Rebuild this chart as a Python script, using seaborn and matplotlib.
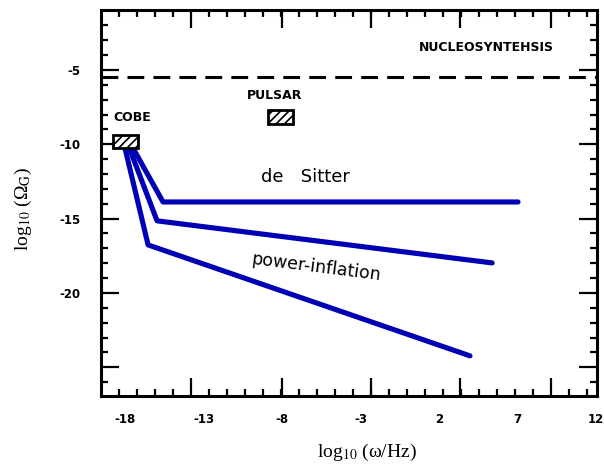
import numpy as np
import pandas as pd
import matplotlib
matplotlib.use("Agg")
import matplotlib.pyplot as plt
from matplotlib.patches import Rectangle
import seaborn as sns

# spectra: log10(omega/Hz) against log10(Omega_G)
desitter_x = [-17.6, -15.58, 7.03]
desitter_y = [-10.05, -13.88, -13.88]
power1_x = [-17.8, -15.96, 5.38]
power1_y = [-10.05, -15.15, -17.98]
power2_x = [-18.05, -16.53, 3.97]
power2_y = [-10.05, -16.77, -24.23]

# observational bounds
nucleo_level = -5.45
cobe_x = [-18.76, -17.17]
cobe_y = [-10.25, -9.37]
pulsar_x = [-8.89, -7.30]
pulsar_y = [-8.63, -7.69]

xtick_labels = ["-18", "-13", "-8", "-3", "2", "7", "12"]
xtick_label_pos = [-18, -13, -8, -3, 2, 7, 12]
ytick_labels = ["", "-20", "-15", "-10", "-5"]
ytick_pos = [-25, -20, -15, -10, -5]

df = pd.concat([
    pd.DataFrame({"x": desitter_x, "y": desitter_y, "model": "de Sitter"}),
    pd.DataFrame({"x": power1_x, "y": power1_y, "model": "power 1"}),
    pd.DataFrame({"x": power2_x, "y": power2_y, "model": "power 2"}),
])

sns.set_style("white")
plt.rcParams["mathtext.fontset"] = "stix"
for key in ["text.color", "axes.labelcolor", "xtick.color", "ytick.color"]:
    plt.rcParams[key] = "black"
blue = "#0000b4"

fig = plt.figure(figsize=(6.04, 4.65), dpi=100)
ax = fig.add_axes([101 / 604, 69 / 465, 496 / 604, 386 / 465])

sns.lineplot(data=df, x="x", y="y", units="model", estimator=None, sort=False,
             color=blue, lw=3.7, ax=ax, legend=False)

ax.axhline(nucleo_level, color="black", lw=2.2, ls=(0, (5.5, 3)))

plt.rcParams["hatch.linewidth"] = 1.2
for bx, by in [(cobe_x, cobe_y), (pulsar_x, pulsar_y)]:
    ax.add_patch(Rectangle((bx[0], by[0]), bx[1] - bx[0], by[1] - by[0],
                           facecolor="white", edgecolor="black", lw=2,
                           hatch="////", zorder=3))

bold = dict(fontsize=9, fontweight="bold", family="DejaVu Sans",
            ha="center", va="center", color="black")
ax.text(5.03, -3.52, "NUCLEOSYNTEHSIS", **bold)
ax.text(-8.45, -6.75, "PULSAR", **bold)
ax.text(-17.52, -8.23, "COBE", **bold)
ax.text(-6.54, -12.2, "de   Sitter", fontsize=13, ha="center", va="center",
        color="black")
ax.text(-5.83, -18.3, "power-inflation", fontsize=12.5, ha="center",
        va="center", rotation=-7.2, color="black")

ax.set_xlim(-19.53, 12.06)
ax.set_ylim(-26.93, -0.97)

# tick marks (unlabelled) on the main axes
step = (9.13 + 13.80) / 20
xmajor = [-13.80, -8.00, -2.33, 3.34, 9.13]
xminor = np.arange(-13.80 - 4 * step, 11.6, step)
ax.set_xticks(xmajor)
ax.set_xticks(xminor, minor=True)
ax.set_yticks(ytick_pos, labels=ytick_labels)
ax.set_yticks(np.arange(-26, -1), minor=True)
ax.tick_params(which="both", direction="in", top=True, right=True,
               bottom=True, left=True, width=1.6, color="black")
ax.tick_params(which="major", length=13)
ax.tick_params(which="minor", length=5)
ax.tick_params(axis="x", labelbottom=False)
ax.tick_params(axis="y", which="major", pad=15, labelsize=8.5)
for lab in ax.get_yticklabels():
    lab.set_fontweight("bold")
for sp in ax.spines.values():
    sp.set_linewidth(2.2)
    sp.set_color("black")

# x tick labels sit on their own scale positions
sec = ax.secondary_xaxis("bottom")
sec.set_xticks(xtick_label_pos, labels=xtick_labels)
sec.tick_params(length=0, pad=12, labelsize=8.5, colors="black")
sec.spines["bottom"].set_visible(False)
for lab in sec.get_xticklabels():
    lab.set_fontweight("bold")

ax.set_xlabel("log$_{10}$ (ω/Hz)", family="Liberation Serif", fontsize=14)
ax.set_ylabel(r"log$_{10}$ (Ω$_{\rm G}$)", family="Liberation Serif", fontsize=14)
ax.xaxis.set_label_coords(0.536, -0.12)
ax.yaxis.set_label_coords(-0.135, 0.484)

fig.savefig("out.png", dpi=100)
